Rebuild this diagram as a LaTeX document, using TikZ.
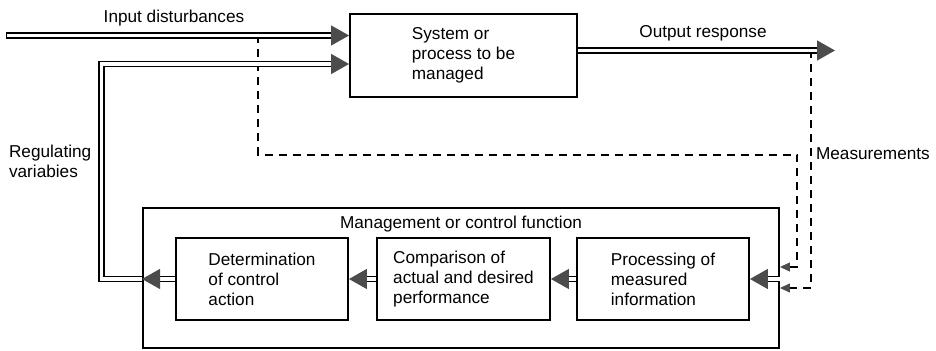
\documentclass[tikz,border=0pt]{standalone}
\usepackage{fontspec}
\setmainfont{Liberation Sans}
\usetikzlibrary{arrows.meta}
\definecolor{tipgray}{gray}{0.3}

\begin{document}
\begin{tikzpicture}[x=0.5pt,y=-0.5pt,
  font=\fontsize{8.6}{10}\selectfont,
  box/.style={draw=black, line width=0.95pt, align=left, inner sep=0pt},
  flow/.style={draw=black, line width=0.7pt, double=white, double distance=1.8pt,
    -{Triangle[length=9pt,width=10pt,color=tipgray]}},
  meas/.style={draw=black, line width=0.6pt, dash pattern=on 4pt off 3pt,
    -{Triangle[length=5pt,width=4.5pt,color=tipgray]}}]
\useasboundingbox (0,0) rectangle (936,351);
% boxes
\node[box, minimum width=113.5pt, minimum height=41.5pt] (sys) at (463.5,55.5) {System or\\process to be\\managed};
\node[box, minimum width=318pt, minimum height=70pt] (mgmt) at (461,278) {};
\node[anchor=north] (mgmttitle) at ([yshift=-1pt]mgmt.north) {Management or control function};
\node[box, minimum width=86pt, minimum height=41pt] (det) at (262,279) {Determination\\of control\\action};
\node[box, minimum width=86.5pt, minimum height=41pt] (comp) at (463.5,279) {Comparison of\\actual and desired\\performance};
\node[box, minimum width=86pt, minimum height=41pt] (proc) at (663,279) {Processing of\\measured\\information};
% labels
\node (lbldist) at (174,18) {Input disturbances};
\node (lblresp) at (703,33) {Output response};
\node[anchor=west, align=left] (lblreg) at (2,161) {Regulating\\variabies};
\node[anchor=west] (lblmeas) at (809,154) {Measurements};
% end points and corners
\coordinate (dist) at (9,35.5);
\coordinate (resp) at (835,50.5);
\coordinate (regcorner) at (101.5,279);
\coordinate (regtop) at (101.5,64);
\coordinate (tap) at (258,155);
\coordinate (turn) at (797,267);
\coordinate (meas) at (811,288);
% measurements
\draw[meas] (tap |- dist) -- (tap) -- (tap -| turn) -- (turn) -- (turn -| mgmt.east);
\draw[meas] (meas |- resp) -- (meas) -- (meas -| mgmt.east);
% flows
\draw[flow, line cap=rect] (dist) -- (dist -| sys.west);
\draw[flow] (sys.east |- resp) -- (resp);
\draw[flow] (mgmt.east |- proc.east) -- (proc.east);
\draw[flow] (proc.west) -- (comp.east);
\draw[flow] (comp.west) -- (det.east);
\draw[flow] (det.west) -- (det.west -| mgmt.west);
\draw[flow] (det.west -| mgmt.west) -- (regcorner) -- (regtop) -- (regtop -| sys.west);
\end{tikzpicture}
\end{document}
